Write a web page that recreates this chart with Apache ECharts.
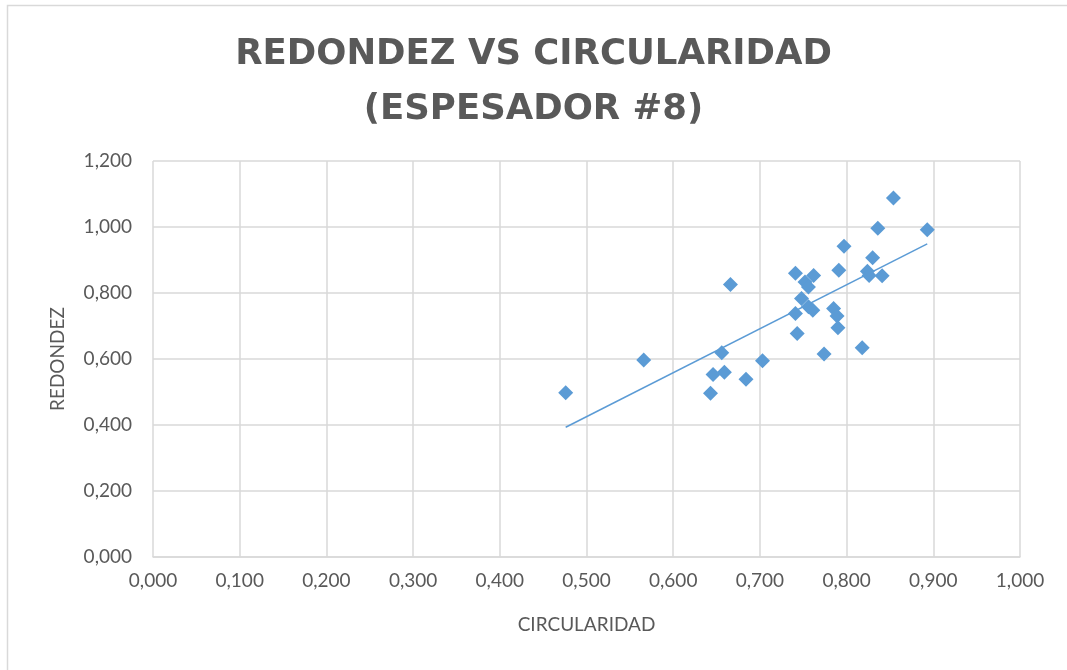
<!DOCTYPE html>
<html>
<head>
<meta charset="utf-8">
<script src="https://cdn.jsdelivr.net/npm/echarts@6/dist/echarts.min.js"></script>
<style>
  html, body { margin: 0; padding: 0; background: #fff; }
  #chart { width: 1067px; height: 670px; }
</style>
</head>
<body>
<div id="chart"></div>
<script>
// circularidad (x) / redondez (y)
const circularidad = [
  0.854, 0.836, 0.893, 0.797, 0.830, 0.791, 0.824, 0.826, 0.841, 0.741,
  0.762, 0.752, 0.756, 0.666, 0.748, 0.756, 0.761, 0.741, 0.785, 0.789,
  0.790, 0.743, 0.818, 0.774, 0.656, 0.703, 0.566, 0.659, 0.646, 0.684,
  0.643, 0.476
];
const redondez = [
  1.088, 0.996, 0.992, 0.942, 0.907, 0.869, 0.866, 0.853, 0.852, 0.860,
  0.853, 0.833, 0.818, 0.826, 0.783, 0.758, 0.748, 0.738, 0.753, 0.730,
  0.695, 0.677, 0.634, 0.615, 0.619, 0.595, 0.597, 0.560, 0.553, 0.539,
  0.496, 0.498
];
const xTicks = [0, 0.1, 0.2, 0.3, 0.4, 0.5, 0.6, 0.7, 0.8, 0.9, 1.0];
const yTicks = [0, 0.2, 0.4, 0.6, 0.8, 1.0, 1.2];

const points = circularidad.map((x, i) => [x, redondez[i]]);

// linear trendline (least squares), like excel does
const n = points.length;
let sx = 0, sy = 0, sxx = 0, sxy = 0;
points.forEach(p => { sx += p[0]; sy += p[1]; sxx += p[0] * p[0]; sxy += p[0] * p[1]; });
const slope = (n * sxy - sx * sy) / (n * sxx - sx * sx);
const icpt = (sy - slope * sx) / n;
const xmin = Math.min(...circularidad), xmax = Math.max(...circularidad);
const trend = [[xmin, icpt + slope * xmin], [xmax, icpt + slope * xmax]];

const fmt = v => v.toFixed(3).replace('.', ',');
const grey = '#595959';
const gridCol = '#d9d9d9';

const myChart = echarts.init(document.getElementById('chart'));
myChart.setOption({
  animation: false,
  backgroundColor: '#fff',
  textStyle: { fontFamily: 'Lato' },
  title: {
    text: 'REDONDEZ VS CIRCULARIDAD\n(ESPESADOR #8)',
    left: 'center',
    top: 22,
    textStyle: {
      fontFamily: 'DejaVu Sans',
      fontWeight: 'bold',
      fontSize: 35.5,
      lineHeight: 55,
      color: grey
    }
  },
  grid: { left: 153, right: 47, top: 161, bottom: 113 },
  xAxis: {
    type: 'value',
    min: xTicks[0],
    max: xTicks[xTicks.length - 1],
    interval: 0.1,
    name: 'CIRCULARIDAD',
    nameLocation: 'middle',
    nameGap: 58,
    nameTextStyle: { fontSize: 19, color: grey },
    axisLine: { lineStyle: { color: gridCol, width: 1.5 } },
    axisTick: { show: false },
    axisLabel: { fontSize: 19, color: grey, margin: 14, formatter: fmt },
    splitLine: { lineStyle: { color: gridCol, width: 1.5 } }
  },
  yAxis: {
    type: 'value',
    min: yTicks[0],
    max: yTicks[yTicks.length - 1],
    interval: 0.2,
    name: 'REDONDEZ',
    nameLocation: 'middle',
    nameGap: 86,
    nameTextStyle: { fontSize: 19, color: grey },
    axisLine: { show: false },
    axisTick: { show: false },
    axisLabel: { fontSize: 19, color: grey, margin: 21, formatter: fmt },
    splitLine: { lineStyle: { color: gridCol, width: 1.5 } }
  },
  graphic: [{
    type: 'rect',
    shape: { x: 7.5, y: 5.5, width: 1100, height: 700 },
    style: { fill: 'none', stroke: '#d9d9d9', lineWidth: 1.5 },
    silent: true
  }],
  series: [
    {
      type: 'scatter',
      data: points,
      symbol: 'diamond',
      symbolSize: 15,
      itemStyle: { color: '#5b9bd5', opacity: 1 },
      z: 3
    },
    {
      type: 'line',
      data: trend,
      showSymbol: false,
      lineStyle: { color: '#5b9bd5', width: 1.5 },
      z: 2
    }
  ]
});
</script>
</body>
</html>
